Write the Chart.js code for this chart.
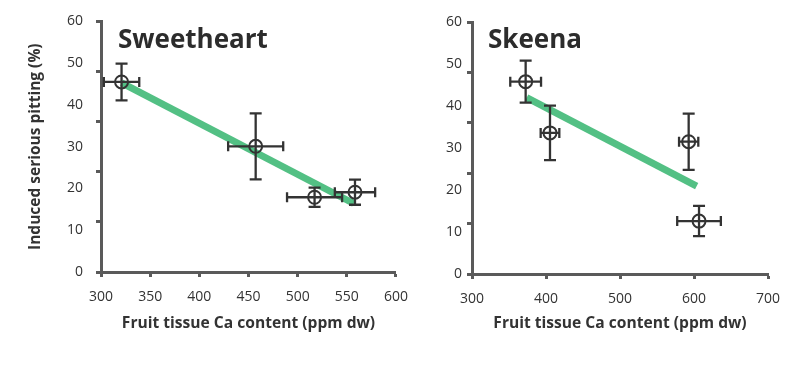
<!DOCTYPE html>
<html><head><meta charset="utf-8">
<script src="https://cdn.jsdelivr.net/npm/chart.js@4"></script>
<style>
html,body{margin:0;padding:0;background:#fff;}
#wrap{position:relative;width:803px;height:366px;overflow:hidden;}
#c1{position:absolute;left:0;top:0;}
#c2{position:absolute;left:420px;top:0;}
</style></head><body>
<div id="wrap"><canvas id="c1" width="420" height="366"></canvas><canvas id="c2" width="383" height="366"></canvas></div>
<script>
// ---- data ----
const yLabelValues = [0, 10, 20, 30, 40, 50, 60];
const yMarkValues = [0, 12, 24, 36, 48, 60];

const sweetXTicks = [300, 350, 400, 450, 500, 550, 600];
const sweetX = [320.9, 457.3, 517.2, 558.3];
const sweetY = [45.5, 30.1, 17.9, 19.1];
const sweetXErr = [18, 28, 28, 20.5];
const sweetYErr = [4.4, 7.9, 2.3, 3.0];
const sweetFitX = [321, 557];
const sweetFitY = [45.3, 16.4];

const skeenaXTicks = [300, 400, 500, 600, 700];
const skeenaX = [372.5, 405.4, 592.8, 606.8];
const skeenaY = [45.8, 33.6, 31.5, 12.6];
const skeenaXErr = [20.8, 12.6, 13, 29.5];
const skeenaYErr = [5.0, 6.5, 6.7, 3.6];
const skeenaFitX = [373.9, 603.6];
const skeenaFitY = [42.0, 20.9];

// ---- styles ----
const AXIS = '#5a5a5a';
const INK = '#333333';
const GREEN = '#53c084';
Chart.defaults.font.family = "'Open Sans', sans-serif";
Chart.defaults.color = INK;

const errorBars = {
  id: 'errorBars',
  afterDatasetsDraw(chart, args, o) {
    const {ctx, scales: {x, y}} = chart;
    ctx.save();
    ctx.strokeStyle = o.color;
    ctx.lineWidth = o.width;
    ctx.lineCap = 'butt';
    o.xs.forEach((xv, i) => {
      const yv = o.ys[i];
      const px = x.getPixelForValue(xv), py = y.getPixelForValue(yv);
      const x0 = x.getPixelForValue(xv - o.xErr[i]), x1 = x.getPixelForValue(xv + o.xErr[i]);
      const y0 = y.getPixelForValue(yv - o.yErr[i]), y1 = y.getPixelForValue(yv + o.yErr[i]);
      ctx.beginPath();
      ctx.moveTo(x0, py); ctx.lineTo(x1, py);
      ctx.moveTo(x0, py - o.capV); ctx.lineTo(x0, py + o.capV);
      ctx.moveTo(x1, py - o.capV); ctx.lineTo(x1, py + o.capV);
      ctx.moveTo(px, y0); ctx.lineTo(px, y1);
      ctx.moveTo(px - o.capH, y0); ctx.lineTo(px + o.capH, y0);
      ctx.moveTo(px - o.capH, y1); ctx.lineTo(px + o.capH, y1);
      ctx.stroke();
    });
    ctx.restore();
  }
};

const panelTitle = {
  id: 'panelTitle',
  afterDraw(chart, args, o) {
    const {ctx, chartArea} = chart;
    ctx.save();
    ctx.font = "bold 26px 'Open Sans', sans-serif";
    ctx.fillStyle = '#2c2c2c';
    ctx.textBaseline = 'alphabetic';
    ctx.fillText(o.text, chartArea.left + o.dx, o.baseline);
    ctx.restore();
  }
};

function makeChart(canvas, p) {
  const allY = Array.from(new Set(yLabelValues.concat(yMarkValues))).sort((a, b) => a - b);
  return new Chart(canvas, {
    type: 'scatter',
    data: {
      datasets: [
        {
          data: p.xs.map((v, i) => ({x: v, y: p.ys[i]})),
          pointRadius: 6.5,
          pointHoverRadius: 6.5,
          pointBorderWidth: 2,
          pointBorderColor: INK,
          pointBackgroundColor: 'rgba(0,0,0,0)',
          showLine: false
        },
        {
          data: p.fitX.map((v, i) => ({x: v, y: p.fitY[i]})),
          showLine: true,
          borderColor: GREEN,
          borderWidth: 7,
          borderCapStyle: 'butt',
          pointRadius: 0,
          fill: false
        }
      ]
    },
    options: {
      responsive: false,
      animation: false,
      layout: {padding: p.padding},
      plugins: {
        legend: {display: false},
        tooltip: {enabled: false},
        errorBars: {xs: p.xs, ys: p.ys, xErr: p.xErr, yErr: p.yErr, color: INK, width: 2.3, capV: 5, capH: 6},
        panelTitle: {text: p.title, dx: p.titleDx, baseline: p.titleBaseline}
      },
      scales: {
        x: {
          type: 'linear',
          min: p.xTicks[0],
          max: p.xTicks[p.xTicks.length - 1],
          afterBuildTicks: s => { s.ticks = p.xTicks.map(v => ({value: v})); },
          afterFit: s => { s.height = p.xAxisHeight; },
          ticks: {font: {size: 14}, color: INK, padding: 12, maxRotation: 0, autoSkip: false},
          grid: {drawOnChartArea: false, drawTicks: true, tickLength: 5, tickWidth: 3, tickColor: AXIS},
          border: {display: true, color: AXIS, width: 3},
          title: {display: true, text: 'Fruit tissue Ca content (ppm dw)', font: {size: 15.6, weight: 'bold'}, color: INK, padding: {top: 0, bottom: 33}}
        },
        y: {
          type: 'linear',
          min: 0,
          max: 60,
          afterBuildTicks: s => { s.ticks = allY.map(v => ({value: v})); },
          afterFit: s => { s.width = p.yAxisWidth; },
          ticks: {
            font: {size: 14}, color: INK, padding: p.yTickPad, autoSkip: false,
            callback: v => yLabelValues.includes(v) ? String(v) : ''
          },
          grid: {
            drawOnChartArea: false, drawTicks: true, tickLength: 5, tickWidth: 3,
            tickColor: c => (c.tick && yMarkValues.includes(c.tick.value)) ? AXIS : 'rgba(0,0,0,0)'
          },
          border: {display: true, color: AXIS, width: 3},
          title: {display: p.yTitle, text: 'Induced serious pitting (%)', font: {size: 15.5, weight: 'bold'}, color: INK, padding: {top: 26, bottom: 0}}
        }
      }
    },
    plugins: [errorBars, panelTitle]
  });
}

makeChart(document.getElementById('c1'), {
  xs: sweetX, ys: sweetY, xErr: sweetXErr, yErr: sweetYErr,
  fitX: sweetFitX, fitY: sweetFitY, xTicks: sweetXTicks,
  padding: {top: 20, right: 22, bottom: 0, left: 0},
  yAxisWidth: 101, xAxisHeight: 94, yTickPad: 13, yTitle: true,
  title: 'Sweetheart', titleDx: 17, titleBaseline: 48
});
makeChart(document.getElementById('c2'), {
  xs: skeenaX, ys: skeenaY, xErr: skeenaXErr, yErr: skeenaYErr,
  fitX: skeenaFitX, fitY: skeenaFitY, xTicks: skeenaXTicks,
  padding: {top: 22, right: 35, bottom: 0, left: 0},
  yAxisWidth: 52, xAxisHeight: 92, yTickPad: 5, yTitle: false,
  title: 'Skeena', titleDx: 16, titleBaseline: 48
});
</script>
</body></html>
